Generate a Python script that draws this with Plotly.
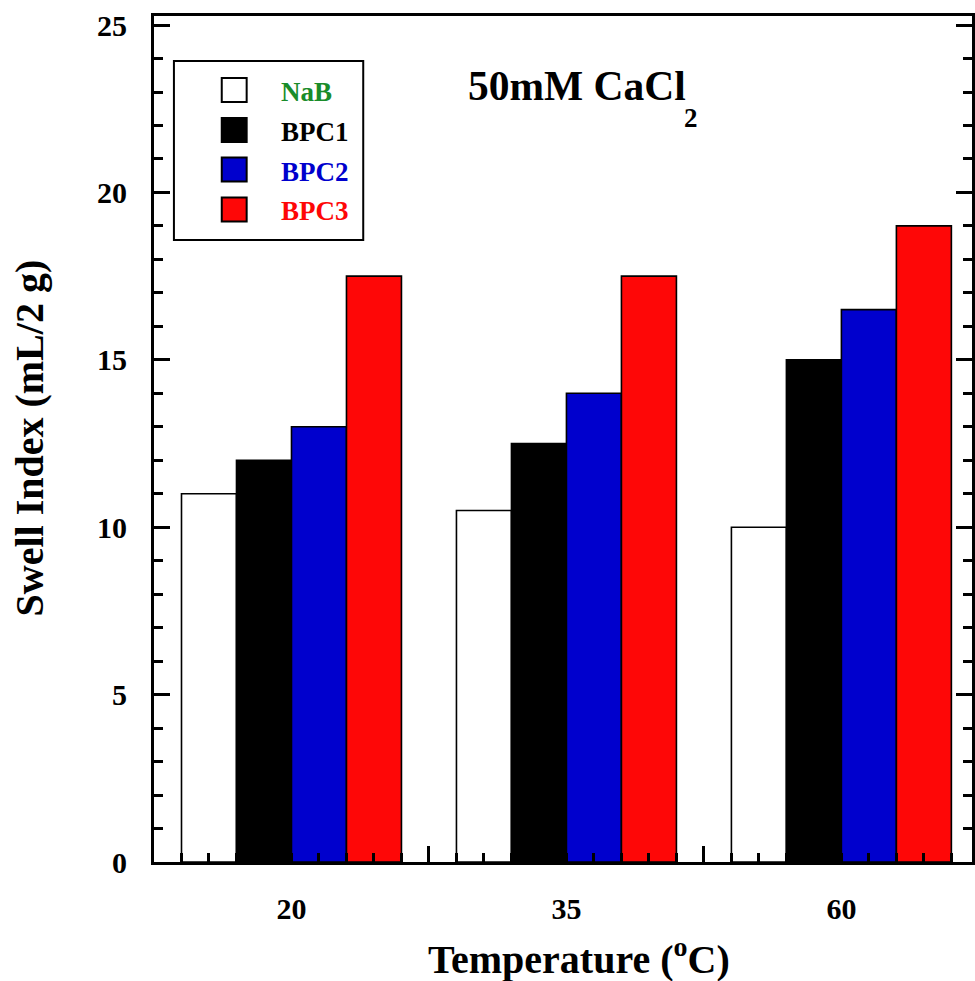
import plotly.graph_objects as go

# ---- data ----
temperatures = ["20", "35", "60"]
series_names = ["NaB", "BPC1", "BPC2", "BPC3"]
nab = [11.0, 10.5, 10.0]
bpc1 = [12.0, 12.5, 15.0]
bpc2 = [13.0, 14.0, 16.5]
bpc3 = [17.5, 17.5, 19.0]
y_ticks = [0, 5, 10, 15, 20, 25]

series_values = [nab, bpc1, bpc2, bpc3]
fill_colors = ["#ffffff", "#000000", "#0000cd", "#fe0707"]
label_colors = ["#1a8c2a", "#000000", "#0000cd", "#fe0707"]

FONT = "Liberation Serif"
W, H = 975, 981
L, R, T, B = 154, 0, 16, 119
PW, PH = W - L - R, H - T - B

def px(x):
    return (x - L) / PW

def py(y):
    return (H - B - y) / PH

group_pos = [i + 0.5 for i in range(len(temperatures))]

fig = go.Figure()
for name, vals, col in zip(series_names, series_values, fill_colors):
    fig.add_trace(go.Bar(
        x=group_pos, y=vals, name=name, showlegend=False,
        marker=dict(color=col, line=dict(color="#000000", width=1.6)),
        xaxis="x", yaxis="y",
    ))

fig.update_layout(
    width=W, height=H,
    margin=dict(l=L, r=R, t=T, b=B, pad=0),
    paper_bgcolor="white", plot_bgcolor="white",
    barmode="group", bargap=0.2, bargroupgap=0,
    showlegend=False,
    xaxis=dict(
        range=[0, 2.975], tickmode="array", tickvals=group_pos, ticktext=temperatures,
        ticks="", showline=False, showgrid=False, zeroline=False,
        tickfont=dict(family=FONT, size=30, color="black", weight="bold"),
        ticklabelstandoff=26,
    ),
    xaxis2=dict(
        range=[0, 2.975], overlaying="x", anchor="y", side="bottom",
        tickmode="linear", tick0=0, dtick=1, ticks="inside", ticklen=16, tickwidth=3,
        tickcolor="black",
        minor=dict(dtick=0.1, tick0=0, ticks="inside", ticklen=9, tickwidth=3, tickcolor="black", showgrid=False),
        showticklabels=False, showline=True, linewidth=3, linecolor="black",
        mirror=True, showgrid=False, zeroline=False,
    ),
    yaxis=dict(
        range=[0, 25.27], tickmode="array", tickvals=y_ticks,
        ticks="inside", ticklen=16, tickwidth=3, tickcolor="black",
        minor=dict(dtick=1, tick0=0, ticks="inside", ticklen=9, tickwidth=3, tickcolor="black", showgrid=False),
        showline=True, linewidth=3, linecolor="black", mirror="ticks",
        showgrid=False, zeroline=False,
        tickfont=dict(family=FONT, size=30, color="black", weight="bold"),
        ticklabelstandoff=18,
    ),
)

# empty trace so the tick axis xaxis2 is drawn
fig.add_trace(go.Scatter(x=[], y=[], xaxis="x2", yaxis="y", showlegend=False, hoverinfo="skip"))

shapes = []
annotations = []

# legend frame
shapes.append(dict(type="rect", xref="paper", yref="paper",
                   x0=px(174), x1=px(364), y0=py(240), y1=py(61),
                   line=dict(color="black", width=2), fillcolor="rgba(0,0,0,0)"))
row_centers = [90, 130, 169.5, 209.5]
for name, fc, lc, yc in zip(series_names, fill_colors, label_colors, row_centers):
    shapes.append(dict(type="rect", xref="paper", yref="paper",
                       x0=px(222), x1=px(247), y0=py(yc + 12), y1=py(yc - 12),
                       line=dict(color="black", width=2), fillcolor=fc))
    annotations.append(dict(xref="paper", yref="paper", x=px(279), y=py(yc + 2),
                            xanchor="left", yanchor="middle", showarrow=False,
                            text=name, font=dict(family=FONT, size=27, color=lc, weight="bold")))

# inner title with a low subscript
annotations.append(dict(xref="paper", yref="paper", x=px(467), y=py(61),
                        xanchor="left", yanchor="top", showarrow=False,
                        text="50mM CaCl",
                        font=dict(family=FONT, size=41.5, color="black", weight="bold")))
annotations.append(dict(xref="paper", yref="paper", x=px(684), y=py(118),
                        xanchor="left", yanchor="middle", showarrow=False,
                        text="2",
                        font=dict(family=FONT, size=27, color="black", weight="bold")))
# axis titles
annotations.append(dict(xref="paper", yref="paper", x=px(581), y=py(957),
                        xanchor="center", yanchor="middle", showarrow=False,
                        text="Temperature (<sup>o</sup>C)",
                        font=dict(family=FONT, size=40, color="black", weight="bold")))
annotations.append(dict(xref="paper", yref="paper", x=px(29), y=py(438),
                        xanchor="center", yanchor="middle", showarrow=False, textangle=-90,
                        text="Swell Index (mL/2 g)",
                        font=dict(family=FONT, size=40, color="black", weight="bold")))

fig.update_layout(shapes=shapes, annotations=annotations)
fig.write_html("out.html")
